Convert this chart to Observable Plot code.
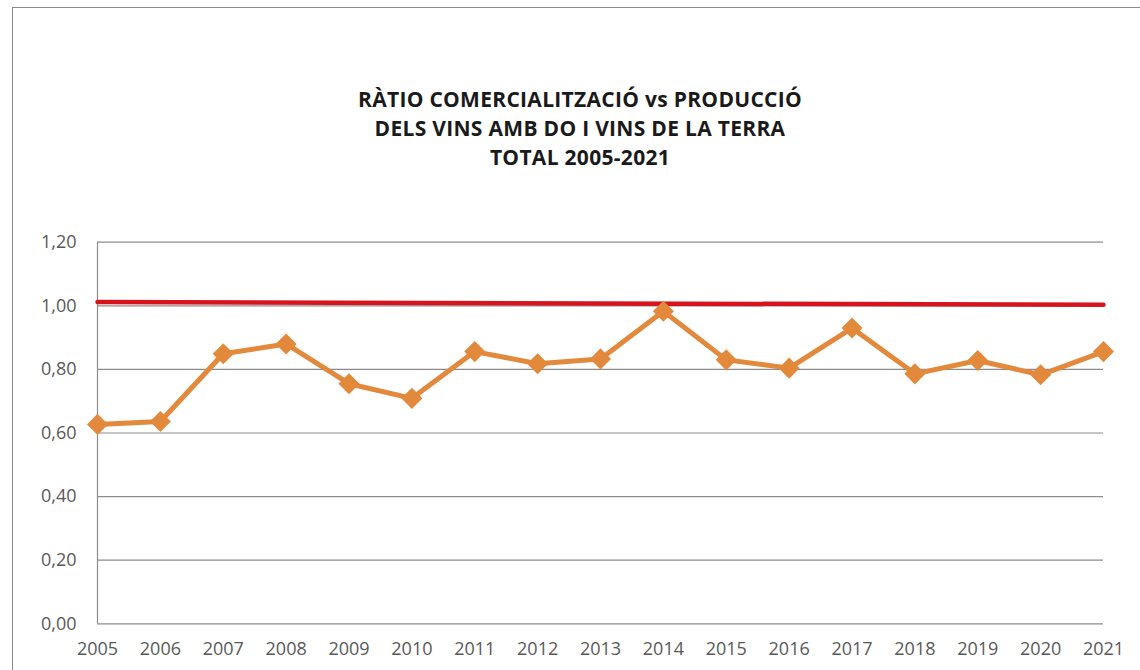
<!DOCTYPE html>
<html>
<head>
<meta charset="utf-8">
<script src="https://cdn.jsdelivr.net/npm/d3@7"></script>
<script src="https://cdn.jsdelivr.net/npm/@observablehq/plot@0.6"></script>
<style>
  html, body { margin: 0; padding: 0; background: #fff; }
  #wrap { position: relative; width: 1140px; height: 670px; overflow: hidden; background: #fff; }
  #frame { position: absolute; left: 12px; top: 7px; width: 1200px; height: 720px; border: 1.5px solid #8a8a8a; box-sizing: border-box; }
  #title { position: absolute; left: 0; top: 85px; width: 1160px; text-align: center;
           font-family: "Open Sans", sans-serif; font-weight: 700; font-size: 21px; letter-spacing: 0.3px; line-height: 29px; color: #1a1a1a; }
  #chart { position: absolute; left: 0; top: 200px; }
</style>
</head>
<body>
<div id="wrap">
  <div id="frame"></div>
  <div id="title">RÀTIO COMERCIALITZACIÓ vs PRODUCCIÓ<br>DELS VINS AMB DO I VINS DE LA TERRA<br>TOTAL 2005-2021</div>
  <div id="chart"></div>
</div>
<script>
const years = [2005, 2006, 2007, 2008, 2009, 2010, 2011, 2012, 2013, 2014, 2015, 2016, 2017, 2018, 2019, 2020, 2021];
const ratio = [0.627, 0.636, 0.849, 0.880, 0.755, 0.709, 0.856, 0.818, 0.833, 0.983, 0.830, 0.804, 0.930, 0.786, 0.828, 0.783, 0.856];
const refYears = [2005, 2021];
const refValues = [1.012, 1.003];
const yTicks = [0, 0.2, 0.4, 0.6, 0.8, 1.0, 1.2];

const series = years.map((year, i) => ({year, value: ratio[i]}));
const refLine = refYears.map((year, i) => ({year, value: refValues[i]}));

const orange = "#e2893c";
const red = "#d7141e";

const chart = Plot.plot({
  width: 1140,
  height: 470,
  marginLeft: 97,
  marginRight: 37,
  marginTop: 41.7,
  marginBottom: 46.7,
  style: { fontFamily: "'Open Sans', sans-serif", fontSize: "18px", color: "#595959", background: "transparent" },
  x: { type: "linear", domain: [2005, 2021], ticks: years, tickFormat: d => String(d), tickSize: 0, tickPadding: 18, label: null },
  y: { domain: [0, 1.2], ticks: yTicks, tickFormat: d => d.toFixed(2).replace(".", ","), tickSize: 0, tickPadding: 21, label: null },
  marks: [
    Plot.ruleY(yTicks, { stroke: "#8c8c8c", strokeWidth: 1.2 }),
    Plot.ruleX([2005], { y1: 0, y2: 1.2, stroke: "#8c8c8c", strokeWidth: 1.2 }),
    Plot.line(refLine, { x: "year", y: "value", stroke: red, strokeWidth: 4.5 }),
    Plot.line(series, { x: "year", y: "value", stroke: orange, strokeWidth: 5 }),
    Plot.dot(series, { x: "year", y: "value", symbol: "diamond2", r: 9.5, fill: orange, stroke: "none" })
  ]
});
document.getElementById("chart").appendChild(chart);
</script>
</body>
</html>
